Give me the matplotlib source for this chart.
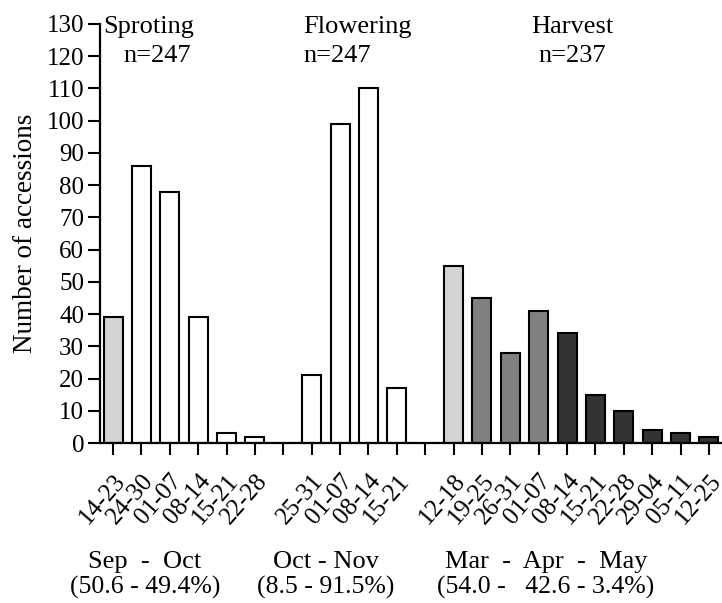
import matplotlib.pyplot as plt
import matplotlib.transforms as mtransforms
import numpy as np

plt.rcParams['font.family'] = ['Liberation Serif', 'DejaVu Serif']

# Sprouting (Sep - Oct)
sprout_labels = ['14-23', '24-30', '01-07', '08-14', '15-21', '22-28']
sprout_values = [39, 86, 78, 39, 3, 2]
sprout_colors = ['#d3d3d3', 'white', 'white', 'white', 'white', 'white']

# Flowering (Oct - Nov)
flower_labels = ['25-31', '01-07', '08-14', '15-21']
flower_values = [21, 99, 110, 17]
flower_colors = ['white'] * 4

# Harvest (Mar - Apr - May)
harvest_labels = ['12-18', '19-25', '26-31', '01-07', '08-14', '15-21',
                  '22-28', '29-04', '05-11', '12-25']
harvest_values = [55, 45, 28, 41, 34, 15, 10, 4, 3, 2]
harvest_colors = ['#d3d3d3', '#808080', '#808080', '#808080',
                  '#333333', '#333333', '#333333', '#333333', '#333333', '#333333']

# one empty slot between groups
labels = sprout_labels + [''] + flower_labels + [''] + harvest_labels
values = sprout_values + [0] + flower_values + [0] + harvest_values
colors = sprout_colors + ['white'] + flower_colors + ['white'] + harvest_colors
x = np.arange(len(labels))

fig = plt.figure(figsize=(7.22, 6.03), dpi=100)
ax = fig.add_axes([100 / 722, 160 / 603, 622 / 722, 419 / 603])

for xi, v, c in zip(x, values, colors):
    if v > 0:
        ax.bar(xi, v, width=0.67, color=c, edgecolor='black', linewidth=1.5)

ax.set_xlim(-0.46, len(labels) - 0.54)
ax.set_ylim(0, 130)
ax.set_yticks(range(0, 131, 10))
ax.set_xticks(x)
ax.set_xticklabels(labels, rotation=49, ha='right', va='top',
                   rotation_mode='anchor', fontsize=18)
shift = mtransforms.ScaledTranslation(0.06, 0, fig.dpi_scale_trans)
for lab in ax.get_xticklabels():
    lab.set_transform(lab.get_transform() + shift)
ax.tick_params(axis='x', length=8.5, width=1.5, pad=11)
ax.tick_params(axis='y', length=8.5, width=1.5, labelsize=18, pad=3)
for s in ['top', 'right']:
    ax.spines[s].set_visible(False)
for s in ['left', 'bottom']:
    ax.spines[s].set_linewidth(1.6)

ax.set_ylabel('Number of accessions', fontsize=19.5, labelpad=6)

# group headers
ax.text(-0.35, 127.2, 'Sproting', fontsize=19, ha='left', va='baseline')
ax.text(1.55, 118.2, 'n=247', fontsize=19, ha='center', va='baseline')
ax.text(6.71, 127.2, 'Flowering', fontsize=19, ha='left', va='baseline')
ax.text(6.71, 118.2, 'n=247', fontsize=19, ha='left', va='baseline')
ax.text(16.18, 127.2, 'Harvest', fontsize=19, ha='center', va='baseline')
ax.text(16.18, 118.2, 'n=237', fontsize=19, ha='center', va='baseline')

# period footers
fig.text(145 / 722, 1 - 568 / 603, 'Sep  -  Oct', fontsize=19, ha='center', va='baseline')
fig.text(145 / 722, 1 - 594 / 603, '(50.6 - 49.4%)', fontsize=18.5, ha='center', va='baseline')
fig.text(326 / 722, 1 - 568 / 603, 'Oct - Nov', fontsize=19, ha='center', va='baseline')
fig.text(326 / 722, 1 - 594 / 603, '(8.5 - 91.5%)', fontsize=18.5, ha='center', va='baseline')
fig.text(546 / 722, 1 - 568 / 603, 'Mar  -  Apr  -  May', fontsize=19, ha='center', va='baseline')
fig.text(546 / 722, 1 - 594 / 603, '(54.0 -   42.6 - 3.4%)', fontsize=18.5, ha='center', va='baseline')

plt.savefig('out.png', dpi=100)
